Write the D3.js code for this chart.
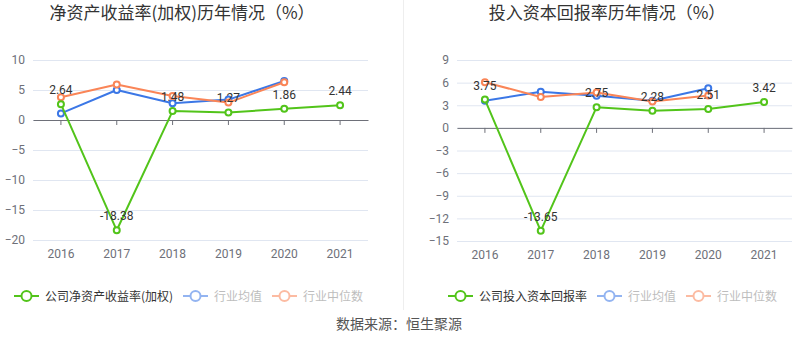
<!DOCTYPE html>
<html><head><meta charset="utf-8">
<script src="https://cdn.jsdelivr.net/npm/d3@7"></script>
<style>body{margin:0;background:#fff;}svg{display:block;font-family:"Noto Sans CJK SC","Noto Sans",sans-serif;}</style>
</head><body>
<svg id="c" width="800" height="358"></svg>
<script>
const years = ["2016","2017","2018","2019","2020","2021"];
// Left chart: ROE (weighted)
const roeCompany = [2.64, -18.38, 1.48, 1.27, 1.86, 2.44];
const roeIndAvg = [1.1, 5.0, 2.8, 3.4, 6.5, null];
const roeIndMed = [3.8, 5.9, 4.0, 2.9, 6.3, null];
const roeTicks = [10, 5, 0, -5, -10, -15, -20];
// Right chart: ROIC
const roicCompany = [3.75, -13.65, 2.75, 2.28, 2.51, 3.42];
const roicIndAvg = [3.6, 4.8, 4.25, 3.6, 5.25, null];
const roicIndMed = [6.05, 4.1, 4.7, 3.5, 4.3, null];
const roicTicks = [9, 6, 3, 0, -3, -6, -9, -12, -15];

const titles = ["净资产收益率(加权)历年情况（%）", "投入资本回报率历年情况（%）"];
const legendNames = [["公司净资产收益率(加权)", "行业均值", "行业中位数"], ["公司投入资本回报率", "行业均值", "行业中位数"]];
const colors = ["#52c41a", "#3b77e6", "#fa8557"];

const svg = d3.select("#c");

// separator
svg.append("line").attr("x1", 403.5).attr("x2", 403.5).attr("y1", 0).attr("y2", 310)
  .attr("stroke", "#eeeeee").attr("stroke-width", 1);

function drawChart(cfg) {
  const g = svg.append("g");
  const x = d3.scaleBand().domain(years).range([cfg.x0, cfg.x1]);
  const y = d3.scaleLinear().domain([cfg.ticks[cfg.ticks.length - 1], cfg.ticks[0]]).range([cfg.yb, cfg.yt]);
  const cx = d => x(d) + x.bandwidth() / 2;

  // title
  g.append("text").attr("x", cfg.titleX).attr("y", 19).attr("text-anchor", "middle")
    .attr("font-size", 17).attr("fill", "#333").text(cfg.title);

  // grid
  const yAxis = d3.axisLeft(y).tickValues(cfg.ticks).tickSize(-(cfg.x1 - cfg.x0)).tickPadding(8).tickFormat(d3.format("d"));
  const ga = g.append("g").attr("transform", `translate(${cfg.x0},0)`).call(yAxis);
  ga.select(".domain").remove();
  ga.selectAll(".tick line").attr("stroke", "#e0e6f1");
  ga.selectAll(".tick text").attr("fill", "#6e7079").attr("font-size", 12).attr("font-family", "Roboto, 'Noto Sans', sans-serif");

  // zero axis with ticks
  const xAxis = d3.axisBottom(x).tickSize(5).tickSizeOuter(0).tickFormat("");
  const gx = g.append("g").attr("transform", `translate(0,${y(0)})`).call(xAxis);
  gx.select(".domain").attr("stroke", "#6e7079");
  gx.selectAll(".tick line").attr("stroke", "#6e7079");

  // year labels
  g.selectAll(".yr").data(years).enter().append("text")
    .attr("x", d => cx(d)).attr("y", cfg.yb + 18).attr("text-anchor", "middle")
    .attr("font-size", 12).attr("fill", "#6e7079").attr("font-family", "Roboto, 'Noto Sans', sans-serif").text(d => d);

  const series = [cfg.company, cfg.avg, cfg.med];
  const order = [1, 2, 0];
  order.forEach(si => {
    const vals = series[si];
    const pts = years.map((yr, i) => ({yr, v: vals[i]})).filter(p => p.v !== null);
    const line = d3.line().x(p => cx(p.yr)).y(p => y(p.v));
    g.append("path").datum(pts).attr("d", line).attr("fill", "none")
      .attr("stroke", colors[si]).attr("stroke-width", 2).attr("stroke-linejoin", "round");
    g.selectAll(".pt" + si).data(pts).enter().append("circle")
      .attr("cx", p => cx(p.yr)).attr("cy", p => y(p.v)).attr("r", 3)
      .attr("fill", "#fff").attr("stroke", colors[si]).attr("stroke-width", 2);
  });
  // labels for company series
  g.selectAll(".lbl").data(years.map((yr, i) => ({yr, v: cfg.company[i]}))).enter().append("text")
    .attr("x", p => cx(p.yr)).attr("y", p => y(p.v) - 10).attr("text-anchor", "middle")
    .attr("font-size", 12).attr("fill", "#333").attr("font-family", "Roboto, 'Noto Sans', sans-serif")
    .text(p => p.v.toFixed(2));

  // legend
  cfg.legend.forEach((lg, i) => {
    const lgG = g.append("g").attr("transform", `translate(${lg.x},296)`).attr("opacity", i === 0 ? 1 : 0.55);
    lgG.append("line").attr("x1", 0).attr("x2", 25).attr("y1", 0).attr("y2", 0).attr("stroke", colors[i]).attr("stroke-width", 2);
    lgG.append("circle").attr("cx", 12.5).attr("cy", 0).attr("r", 5).attr("fill", "#fff").attr("stroke", colors[i]).attr("stroke-width", 2);
    lgG.append("text").attr("x", 31).attr("y", 4.5).attr("font-size", 12)
      .attr("fill", i === 0 ? "#333" : "#888").text(cfg.legendNames[i]);
  });
}

drawChart({x0: 33, x1: 368, yt: 60, yb: 240, ticks: roeTicks, title: titles[0], titleX: 182,
  company: roeCompany, avg: roeIndAvg, med: roeIndMed, legendNames: legendNames[0],
  legend: [{x: 14}, {x: 183}, {x: 272}]});
drawChart({x0: 457, x1: 792, yt: 60, yb: 241, ticks: roicTicks, title: titles[1], titleX: 607,
  company: roicCompany, avg: roicIndAvg, med: roicIndMed, legendNames: legendNames[1],
  legend: [{x: 448}, {x: 597}, {x: 686}]});

svg.append("text").attr("x", 399).attr("y", 329).attr("text-anchor", "middle")
  .attr("font-size", 14).attr("fill", "#555").text("数据来源：恒生聚源");
</script>
</body></html>
